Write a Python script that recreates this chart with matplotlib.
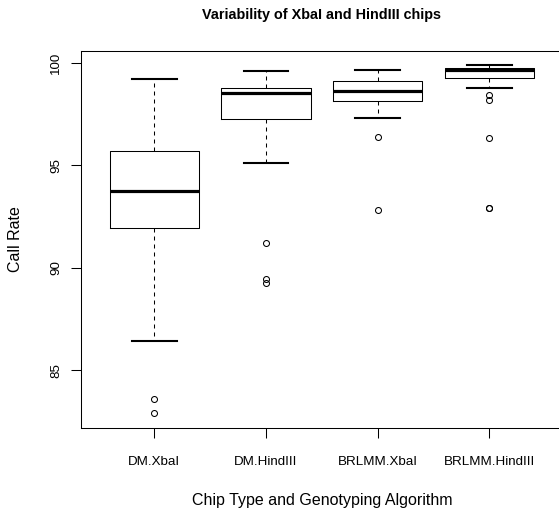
import matplotlib
matplotlib.use("Agg")
import matplotlib.pyplot as plt

plt.rcParams['font.family'] = ['Liberation Sans', 'DejaVu Sans']

# chip / algorithm groups and their box summaries
groups = ['DM.XbaI', 'DM.HindIII', 'BRLMM.XbaI', 'BRLMM.HindIII']
whislo = [86.44, 95.12, 97.32, 98.78]
q1 = [91.94, 97.25, 98.13, 99.24]
med = [93.76, 98.51, 98.60, 99.66]
q3 = [95.69, 98.77, 99.12, 99.74]
whishi = [99.22, 99.61, 99.66, 99.90]
fliers = [
    [83.58, 82.90],
    [91.19, 89.43, 89.24],
    [96.39, 92.81],
    [98.41, 98.18, 96.34, 92.93, 92.93],
]

stats = []
for i in range(len(groups)):
    stats.append({'label': groups[i], 'whislo': whislo[i], 'q1': q1[i], 'med': med[i],
                  'q3': q3[i], 'whishi': whishi[i], 'fliers': fliers[i]})

fig = plt.figure(figsize=(5.59, 5.12), dpi=100)
# R-like plot region; right edge of the frame runs past the image
ax = fig.add_axes([80.7 / 559, 1 - 427.7 / 512, (563 - 80.7) / 559, 377 / 512])

pos = list(range(1, len(groups) + 1))
ax.bxp(stats, positions=pos, widths=0.8, capwidths=0.4,
       boxprops=dict(color='black', linewidth=0.75),
       medianprops=dict(color='black', linewidth=2.3, solid_capstyle='butt'),
       whiskerprops=dict(color='black', linewidth=0.75, linestyle=(0, (3.84, 3.84))),
       capprops=dict(color='black', linewidth=1.5),
       flierprops=dict(marker='o', markerfacecolor='none', markeredgecolor='black',
                       markersize=4.3, markeredgewidth=0.75))

ax.set_xlim(0.34, 4.66)
ax.set_ylim(82.2, 100.585)
ax.set_xticks(pos)
ax.set_xticklabels(groups, fontsize=9.6)
ax.set_yticks([85, 90, 95, 100])
ax.set_yticklabels(['85', '90', '95', '100'], fontsize=9.6, rotation=90, va='center')
ax.tick_params(axis='both', direction='out', length=7.2, width=0.75, color='black')
ax.tick_params(axis='x', pad=13)
ax.tick_params(axis='y', pad=6)
for s in ax.spines.values():
    s.set_linewidth(0.75)

ax.set_xlabel('Chip Type and Genotyping Algorithm', fontsize=11.5, va='center')
ax.xaxis.set_label_coords(0.5, (427.7 - 500) / 377)
ax.set_ylabel('Call Rate', fontsize=11.5, va='center', ha='center')
ax.yaxis.set_label_coords((15 - 80.7) / 482.3, 0.5)
ax.set_title('Variability of XbaI and HindIII chips', fontsize=10.4, fontweight='bold',
             y=(427.7 - 15) / 377, va='center', pad=0)

fig.savefig('out.png', dpi=100)
